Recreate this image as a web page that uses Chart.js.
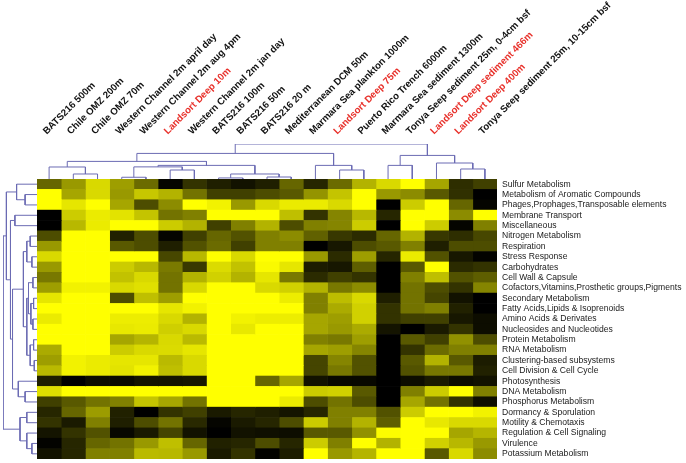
<!DOCTYPE html>
<html><head><meta charset="utf-8">
<script src="https://cdn.jsdelivr.net/npm/chart.js@4.4.1/dist/chart.umd.min.js"></script>
<style>
html,body{margin:0;padding:0;background:#fff;width:686px;height:463px;overflow:hidden;}
canvas{position:absolute;}
#topc{left:0;top:0;}
#heatc{left:0;top:179px;}
#leftc{left:0;top:179px;}
</style></head><body>
<canvas id="topc" width="686" height="181"></canvas>
<canvas id="heatc" width="686" height="284"></canvas>
<canvas id="leftc" width="38" height="282"></canvas>
<script>
const colLabels = ["BATS216 500m","Chile OMZ 200m","Chile OMZ 70m","Western Channel 2m april day","Western Channel 2m aug 4pm","Landsort Deep 10m","Western Channel 2m jan day","BATS216 100m","BATS216 50m","BATS216 20 m","Mediterranean DCM 50m","Marmara Sea plankton 1000m","Landsort Deep 75m","Puerto Rico Trench 6000m","Marmara Sea sediment 1300m","Tonya Seep sediment 25m, 0-4cm bsf","Landsort Deep sediment 466m","Landsort Deep 400m","Tonya Seep sediment 25m, 10-15cm bsf"];
const redCols = [5, 12, 16, 17];
const rowLabels = ["Sulfur Metabolism","Metabolism of Aromatic Compounds","Phages,Prophages,Transposable elements","Membrane Transport","Miscellaneous","Nitrogen Metabolism","Respiration","Stress Response","Carbohydrates","Cell Wall & Capsule","Cofactors,Vitamins,Prosthetic groups,Pigments","Secondary Metabolism","Fatty Acids,Lipids & Isoprenoids","Amino Acids & Derivates","Nucleosides and Nucleotides","Protein Metabolism","RNA Metabolism","Clustering-based subsystems","Cell Division & Cell Cycle","Photosynthesis","DNA Metabolism","Phosphorus Metabolism","Dormancy & Sporulation","Motility & Chemotaxis","Regulation & Cell Signaling","Virulence","Potassium Metabolism"];
// relative abundance per row (0 = black, 1 = yellow), columns in colLabels order
const heatValues = [
 [0.4,0.6,0.85,0.62,0.42,0.02,0.2,0.12,0.07,0.12,0.4,0.15,0.42,0.7,0.85,1.0,0.65,0.18,0.25],
 [1.0,0.65,0.85,0.6,0.78,0.7,0.45,0.25,0.25,0.3,0.35,0.58,0.77,1.0,0.6,0.55,0.35,0.19,0.0],
 [1.0,0.9,1.0,0.65,0.3,0.55,1.0,0.95,0.6,0.85,0.92,0.92,0.85,1.0,0.0,0.8,1.0,0.4,0.02],
 [0.0,0.8,0.92,0.89,0.77,0.45,0.5,1.0,1.0,1.0,0.75,0.2,0.52,0.72,0.15,1.0,1.0,0.55,1.0],
 [0.0,0.72,0.92,1.0,1.0,0.8,0.7,0.25,0.5,0.7,0.3,0.5,0.52,0.8,0.0,1.0,0.8,0.02,0.5],
 [0.3,1.0,1.0,0.13,0.3,0.02,0.25,0.4,0.32,0.5,0.55,0.38,0.22,0.17,0.4,0.7,0.22,0.18,0.28],
 [0.6,1.0,1.0,0.35,0.3,0.12,0.32,0.42,0.25,0.5,0.5,0.0,0.09,0.3,0.35,0.5,0.12,0.3,0.3],
 [0.85,1.0,1.0,1.0,1.0,0.28,0.72,1.0,0.85,1.0,1.0,0.6,0.17,0.62,0.15,0.92,0.32,0.09,0.01],
 [0.6,1.0,1.0,0.8,0.72,0.48,0.22,0.86,0.76,0.98,0.9,0.11,0.09,0.37,0.0,0.35,1.0,0.17,0.2],
 [0.47,1.0,1.0,0.76,0.85,0.45,0.7,0.82,0.7,0.9,0.47,0.17,0.25,0.2,0.0,0.5,0.75,0.32,0.37],
 [0.62,0.95,0.95,0.85,0.88,0.45,0.85,1.0,1.0,0.85,0.82,0.7,0.47,0.55,0.0,0.45,0.3,0.2,0.52],
 [0.9,1.0,1.0,0.3,0.75,0.62,1.0,1.0,1.0,1.0,0.93,0.5,0.74,0.85,0.12,0.45,0.27,0.07,0.0],
 [1.0,1.0,1.0,1.0,1.0,0.9,0.95,1.0,1.0,1.0,1.0,0.5,0.67,0.82,0.2,0.45,0.5,0.13,0.0],
 [0.92,1.0,1.0,0.93,0.93,0.85,0.7,1.0,0.95,0.93,0.93,0.65,0.62,0.82,0.2,0.25,0.25,0.09,0.05],
 [1.0,1.0,1.0,0.91,0.92,0.81,0.85,1.0,0.91,1.0,1.0,0.65,0.6,0.67,0.08,0.0,0.1,0.2,0.05],
 [1.0,1.0,1.0,0.65,0.71,0.85,0.73,1.0,1.0,1.0,1.0,0.5,0.47,0.62,0.0,0.35,0.25,0.57,0.3],
 [0.67,1.0,1.0,0.8,0.85,0.86,0.9,1.0,1.0,1.0,1.0,0.65,0.62,0.52,0.0,0.2,0.42,0.5,0.5],
 [0.62,0.95,0.92,0.9,0.9,0.73,0.85,1.0,1.0,1.0,1.0,0.27,0.52,0.32,0.0,0.35,0.7,0.35,0.11],
 [0.73,0.95,0.92,0.89,0.95,0.75,0.85,1.0,1.0,1.0,1.0,0.27,0.47,0.32,0.0,0.32,0.47,0.47,0.13],
 [0.12,0.0,0.05,0.04,0.08,0.08,0.09,1.0,1.0,0.4,0.65,0.07,0.03,0.03,0.0,0.05,0.1,0.05,0.07],
 [0.88,1.0,1.0,1.0,1.0,1.0,1.0,1.0,1.0,1.0,1.0,0.8,0.82,0.35,0.0,0.5,0.8,1.0,0.5],
 [0.25,0.35,0.45,0.5,0.77,0.65,0.45,1.0,1.0,1.0,0.92,0.3,0.45,0.3,0.0,0.65,0.45,0.2,0.06],
 [0.15,0.4,0.61,0.13,0.0,0.2,0.25,0.1,0.15,0.12,0.08,0.15,0.5,0.5,0.32,0.8,1.0,1.0,0.95],
 [0.2,0.1,0.5,0.12,0.3,0.45,0.16,0.02,0.1,0.15,0.3,0.8,0.5,0.7,0.37,1.0,0.91,0.85,0.85],
 [0.08,0.2,0.32,0.03,0.1,0.27,0.07,0.0,0.07,0.06,0.05,0.35,0.35,0.57,0.99,1.0,1.0,0.65,0.71],
 [0.01,0.15,0.4,0.45,0.6,0.75,0.4,0.13,0.15,0.3,0.15,0.8,0.5,1.0,0.7,1.0,0.82,0.72,0.6],
 [0.07,0.15,0.5,0.5,0.73,0.72,0.6,0.1,0.2,0.01,0.11,1.0,0.6,0.71,1.0,1.0,0.35,0.85,0.55]
];
// dendrogram merges: [childA, childB, height]; child >= 0 is a leaf, -k is merge k-1
const colMerges = [
 [3,4,0.05],[5,6,0.257],[-1,-2,0.346],[7,8,0.03],[9,10,0.057],[-4,-5,0.143],[-3,-6,0.389],
 [1,2,0.143],[0,-8,0.343],[-9,-7,0.503],[12,13,0.257],[11,-11,0.389],[-10,-12,0.731],
 [14,15,0.389],[17,18,0.286],[16,-15,0.457],[-14,-16,0.674],[-13,-17,1.0]
];
const rowMerges = [
 [1,2,0.35],[0,-1,0.6],[5,6,0.2],[7,8,0.15],[-3,-4,0.3],[9,10,0.12],[11,12,0.1],[13,14,0.12],
 [-7,-8,0.18],[-6,-9,0.25],[15,16,0.1],[17,18,0.08],[-11,-12,0.2],[-10,-13,0.3],[-5,-14,0.4],
 [20,21,0.35],[19,-16,0.55],[-15,-17,0.72],[3,4,0.65],[-19,-18,0.78],[-2,-20,0.9],
 [22,23,0.3],[25,26,0.15],[24,-23,0.3],[-22,-24,0.5],[-21,-25,1.0]
];

const lineColor = '#6b6bb3';
const FONT = "'Liberation Sans', Arial, sans-serif";
function cellColor(v){ const c = Math.round(255*v); return `rgb(${c},${c},0)`; }
function buildLinks(merges){
  const pos = [], hgt = [], links = [];
  merges.forEach(([a,b,h],k)=>{
    const pa = a>=0 ? a+0.5 : pos[-a-1], ha = a>=0 ? 0 : hgt[-a-1];
    const pb = b>=0 ? b+0.5 : pos[-b-1], hb = b>=0 ? 0 : hgt[-b-1];
    pos[k] = (pa+pb)/2; hgt[k] = h;
    links.push([[pa,ha],[pa,h],[pb,h],[pb,hb]]);
  });
  return links;
}
function linkDatasets(links, swap){
  return links.map(l=>({
    data: l.map(([p,h])=> swap ? {x:h, y:p} : {x:p, y:h}),
    showLine:true, borderColor:lineColor, borderWidth:1, pointRadius:0, fill:false, tension:0
  }));
}
const noPlug = {legend:{display:false}, tooltip:{enabled:false}};

// top dendrogram + column labels
new Chart(document.getElementById('topc'), {
  type:'scatter',
  data:{datasets: linkDatasets(buildLinks(colMerges), false)},
  options:{
    responsive:false, animation:false, plugins:noPlug,
    layout:{padding:{left:37, right:189, top:0, bottom:2}},
    scales:{
      x:{type:'linear', position:'top', min:0, max:colLabels.length,
         grid:{display:false, drawTicks:false}, border:{display:false},
         afterBuildTicks(s){ s.ticks = colLabels.map((_,i)=>({value:i+0.66})); },
         afterFit(s){ s.height = 144; s.paddingLeft = 0; s.paddingRight = 0; },
         ticks:{autoSkip:false, minRotation:45, maxRotation:45, padding:7,
           font:{family:FONT, size:9.7, weight:'bold'},
           color:(ctx)=> redCols.includes(ctx.index) ? '#e8302a' : '#111',
           callback:(v,i)=>colLabels[i]}},
      y:{type:'linear', display:false, min:0, max:1}
    }
  }
});

// heatmap
new Chart(document.getElementById('heatc'), {
  type:'bar',
  data:{labels: rowLabels,
    datasets: colLabels.map((c,j)=>({label:c, data: rowLabels.map(()=>1),
      backgroundColor: rowLabels.map((_,i)=>cellColor(heatValues[i][j])),
      borderWidth:0, barPercentage:1, categoryPercentage:1}))},
  options:{
    indexAxis:'y', responsive:false, animation:false, plugins:noPlug,
    layout:{padding:{left:37, right:0, top:0, bottom:4}},
    scales:{
      x:{stacked:true, display:false, min:0, max:colLabels.length},
      y:{stacked:true, position:'right', grid:{display:false, drawTicks:false}, border:{display:false},
         afterFit(s){ s.width = 189; s.paddingTop = 0; s.paddingBottom = 0; },
         ticks:{autoSkip:false, padding:5, color:'#1a1a1a', font:{family:FONT, size:8.6}}}
    }
  }
});

// left dendrogram
new Chart(document.getElementById('leftc'), {
  type:'scatter',
  data:{datasets: linkDatasets(buildLinks(rowMerges), true)},
  options:{
    responsive:false, animation:false, plugins:noPlug,
    layout:{padding:{left:3, right:1, top:0, bottom:2}},
    scales:{
      x:{type:'linear', display:false, min:0, max:1, reverse:true},
      y:{type:'linear', display:false, min:0, max:rowLabels.length, reverse:true}
    }
  }
});
</script>
</body></html>
